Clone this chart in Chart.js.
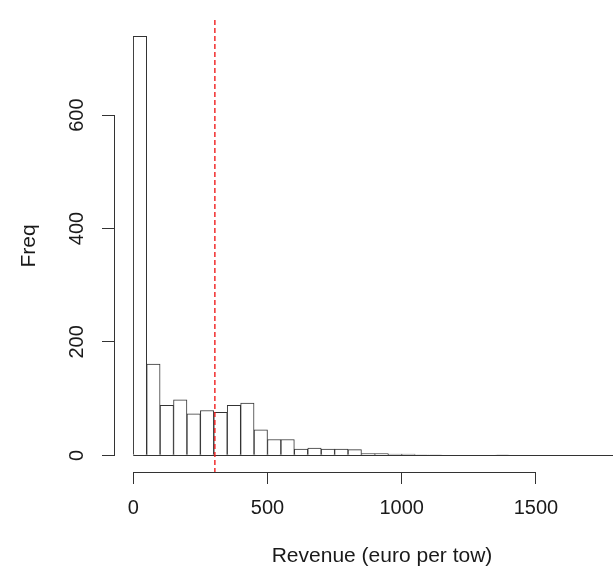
<!DOCTYPE html>
<html>
<head>
<meta charset="utf-8">
<script src="https://cdn.jsdelivr.net/npm/chart.js@4.4.1/dist/chart.umd.min.js"></script>
<style>
  html, body { margin: 0; padding: 0; background: #fff; overflow: hidden; }
  #wrap { width: 649px; height: 571px; }
</style>
</head>
<body>
<div id="wrap"><canvas id="histChart" width="649" height="571"></canvas></div>
<script>
// bin midpoints (bins of 50 euro)
const binMids = [25, 75, 125, 175, 225, 275, 325, 375, 425, 475, 525, 575, 625, 675, 725, 775, 825, 875, 925, 975,
  1025, 1075, 1125, 1175, 1225, 1275, 1325, 1375, 1425, 1475, 1525, 1575, 1625, 1675, 1725, 1775, 1825];
const freq = [739, 161, 88, 98, 73, 79, 76, 88, 92, 45, 28, 28, 11, 13, 11, 11, 10, 3, 3, 2,
  2, 1, 1, 0, 0, 0, 0, 1, 0, 0, 0, 0, 0, 0, 0, 0, 0];
const binWidth = 50;
const xTicks = [0, 500, 1000, 1500];
const yTicks = [0, 200, 400, 600];
const refLine = 304; // red dashed line

const font = { family: "'Liberation Sans', Arial, sans-serif", size: 20 };
const titleFont = { family: "'Liberation Sans', Arial, sans-serif", size: 21 };
const ink = "#1a1a1a";

// R-style detached axes, zero-height bin outline and the reference line
const rAxes = {
  id: "rAxes",
  afterDatasetsDraw(chart) {
    const { ctx, chartArea, scales } = chart;
    const x = scales.x;
    const y = scales.y;
    ctx.save();
    ctx.lineWidth = 1;
    ctx.strokeStyle = "#333";

    // bars baseline (bins with 0 count)
    const y0 = Math.round(y.getPixelForValue(0)) + 0.5;
    ctx.beginPath();
    ctx.moveTo(x.getPixelForValue(binMids[0] - binWidth / 2), y0);
    ctx.lineTo(x.getPixelForValue(binMids[binMids.length - 1] + binWidth / 2), y0);
    ctx.stroke();

    // x axis line
    const xb = Math.round(chartArea.bottom) + 0.5;
    ctx.beginPath();
    ctx.moveTo(x.getPixelForValue(xTicks[0]), xb);
    ctx.lineTo(x.getPixelForValue(xTicks[xTicks.length - 1]), xb);
    ctx.stroke();

    // y axis line
    const yl = Math.round(chartArea.left) - 0.5;
    ctx.beginPath();
    ctx.moveTo(yl, y.getPixelForValue(yTicks[0]));
    ctx.lineTo(yl, y.getPixelForValue(yTicks[yTicks.length - 1]));
    ctx.stroke();

    // red dashed line
    const rx = x.getPixelForValue(refLine);
    ctx.strokeStyle = "rgb(240, 30, 30)";
    ctx.lineWidth = 1.4;
    ctx.setLineDash([5, 3]);
    ctx.beginPath();
    ctx.moveTo(rx, chartArea.top);
    ctx.lineTo(rx, chartArea.bottom);
    ctx.stroke();
    ctx.restore();
  },
};

const histCtx = document.querySelector("#histChart").getContext("2d");

const histChart = new Chart(histCtx, {
  type: "bar",
  data: {
    datasets: [
      {
        label: "Freq",
        data: binMids.map((m, i) => ({ x: m, y: freq[i] })),
        backgroundColor: "#ffffff",
        borderColor: "#333",
        borderWidth: 1,
        barPercentage: 1,
        categoryPercentage: 1,
      },
    ],
  },
  options: {
    responsive: false,
    animation: false,
    layout: { padding: { top: 11, left: 0, right: 0, bottom: 0 } },
    plugins: {
      legend: { display: false },
      tooltip: { enabled: false },
    },
    scales: {
      x: {
        type: "linear",
        offset: false,
        min: -68,
        max: 1921,
        afterBuildTicks: (scale) => {
          scale.ticks = xTicks.map((v) => ({ value: v }));
        },
        afterFit: (scale) => {
          scale.height = 99;
        },
        grid: {
          offset: false,
          drawOnChartArea: false,
          drawTicks: true,
          tickLength: 12,
          color: "#333",
        },
        border: { display: false },
        ticks: {
          font: font,
          color: ink,
          padding: 12,
          maxRotation: 0,
          autoSkip: false,
          callback: (v) => String(v),
        },
        title: {
          display: true,
          text: "Revenue (euro per tow)",
          font: titleFont,
          color: ink,
          padding: { top: 0, bottom: 2 },
        },
      },
      y: {
        min: -29.4,
        max: 767.8,
        afterBuildTicks: (scale) => {
          scale.ticks = yTicks.map((v) => ({ value: v }));
        },
        afterFit: (scale) => {
          scale.width = 115;
        },
        grid: {
          drawOnChartArea: false,
          drawTicks: true,
          tickLength: 13,
          color: "#333",
        },
        border: { display: false },
        ticks: {
          font: font,
          color: ink,
          padding: 8,
          minRotation: 90,
          maxRotation: 90,
          crossAlign: "center",
          autoSkip: false,
          callback: (v) => String(v),
        },
        title: {
          display: true,
          text: "Freq",
          font: titleFont,
          color: ink,
          padding: { top: 17, bottom: 0 },
        },
      },
    },
  },
  plugins: [rAxes],
});
</script>
</body>
</html>
